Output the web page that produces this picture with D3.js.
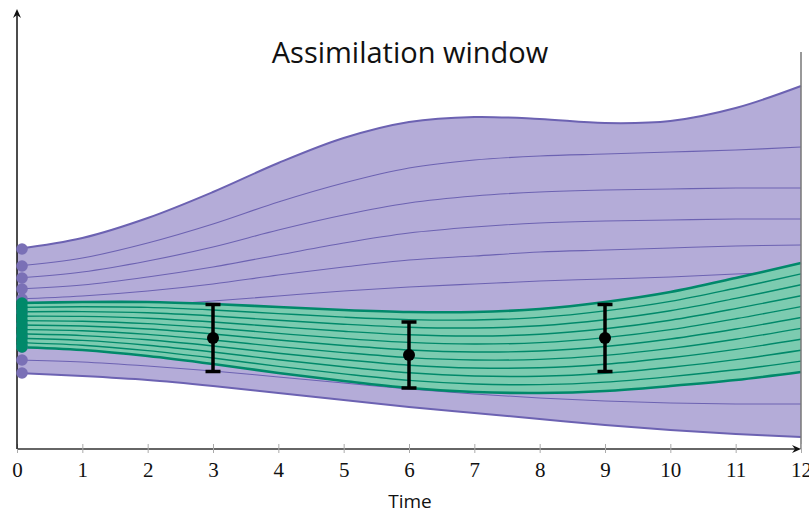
<!DOCTYPE html>
<html><head><meta charset="utf-8">
<script src="https://cdn.jsdelivr.net/npm/d3@7"></script>
<style>body{margin:0;background:#fff} svg{display:block}</style>
</head><body><svg id="c" width="809" height="515"></svg>
<script>
const times = [0,1,2,3,4,5,6,7,8,9,10,11,12];
// prior (purple) ensemble members, top to bottom
const purpleMembers = [
  [20.0,21.1,23.1,25.7,28.6,31.1,32.7,33.2,33.0,32.6,32.8,34.1,36.3],
  [18.3,19.1,20.6,22.5,24.7,26.6,28.1,28.9,29.3,29.5,29.7,29.9,30.2],
  [17.1,17.7,18.8,20.2,21.9,23.4,24.6,25.3,25.7,25.9,26.0,26.1,26.1],
  [16.0,16.4,17.2,18.2,19.4,20.6,21.6,22.2,22.6,22.8,22.9,23.0,23.0],
  [15.0,15.3,15.8,16.5,17.4,18.2,18.9,19.3,19.7,19.9,20.1,20.3,20.4],
  [13.7,13.9,14.3,14.8,15.3,15.8,16.2,16.5,16.8,17.0,17.2,17.5,17.7],
  [12.4,12.4,12.5,12.7,12.9,13.1,13.3,13.5,13.7,13.9,14.4,14.9,15.4],
  [11.3,11.2,11.1,10.9,10.8,10.7,10.6,10.6,10.7,10.9,11.4,11.9,12.4],
  [10.2,10.0,9.7,9.3,8.9,8.5,8.2,8.1,8.1,8.3,8.7,9.4,9.9],
  [8.9,8.7,8.3,7.8,7.2,6.6,6.0,5.5,5.1,4.8,4.6,4.5,4.5],
  [7.6,7.3,6.9,6.3,5.6,4.9,4.2,3.6,3.0,2.4,1.9,1.5,1.2]
];
// analysis (green) ensemble members, top to bottom
const greenMembers = [
  [14.6,14.7,14.7,14.5,14.2,13.9,13.7,13.7,14.0,14.7,15.7,17.1,18.6],
  [14.16,14.22,14.16,13.9,13.54,13.19,12.94,12.9,13.16,13.81,14.76,16.08,17.51],
  [13.72,13.74,13.62,13.3,12.88,12.48,12.18,12.1,12.32,12.92,13.82,15.06,16.42],
  [13.28,13.26,13.08,12.7,12.22,11.77,11.42,11.3,11.48,12.03,12.88,14.04,15.33],
  [12.84,12.78,12.54,12.1,11.56,11.06,10.66,10.5,10.64,11.14,11.94,13.02,14.24],
  [12.4,12.3,12.0,11.5,10.9,10.35,9.9,9.7,9.8,10.25,11.0,12.0,13.15],
  [11.96,11.82,11.46,10.9,10.24,9.64,9.14,8.9,8.96,9.36,10.06,10.98,12.06],
  [11.52,11.34,10.92,10.3,9.58,8.93,8.38,8.1,8.12,8.47,9.12,9.96,10.97],
  [11.08,10.86,10.38,9.7,8.92,8.22,7.62,7.3,7.28,7.58,8.18,8.94,9.88],
  [10.64,10.38,9.84,9.1,8.26,7.51,6.86,6.5,6.44,6.69,7.24,7.92,8.79],
  [10.2,9.9,9.3,8.5,7.6,6.8,6.1,5.7,5.6,5.8,6.3,6.9,7.7]
];
const obsTimes = [3,6,9];
const obsValues = [11.1,9.4,11.1];
const obsErrors = [3.35,3.3,3.35];
const xTicks = [0,1,2,3,4,5,6,7,8,9,10,11,12];
const titleText = "Assimilation window";
const xLabelText = "Time";

const purpleFill = "#b4acd8", purpleLine = "#6c62b2", purpleDot = "#7a70b6";
const greenFill = "#7ccbb0", greenLine = "#00896a";

const svg = d3.select('#c');
const x = d3.scaleLinear().domain([0,12]).range([17,801]);
const y = d3.scaleLinear().domain([0,44]).range([449,9]);
const curve = d3.curveCatmullRom.alpha(0.5);

const line = d3.line().x((d,i)=>x(times[i])).y(d=>y(d)).curve(curve);
function band(top, bot){
  return d3.area().x((d,i)=>x(times[i])).y1((d,i)=>y(top[i])).y0((d,i)=>y(bot[i])).curve(curve)(top);
}

// purple ensemble
const pTop = purpleMembers[0], pBot = purpleMembers[purpleMembers.length-1];
svg.append('path').attr('d', band(pTop,pBot)).attr('fill', purpleFill);
svg.append('g').selectAll('path').data(purpleMembers).join('path')
  .attr('d', d=>line(d)).attr('fill','none').attr('stroke',purpleLine)
  .attr('stroke-width',(d,i)=> (i===0||i===purpleMembers.length-1)?2:1.1);

// green ensemble
const gTop = greenMembers[0], gBot = greenMembers[greenMembers.length-1];
svg.append('path').attr('d', band(gTop,gBot)).attr('fill', greenFill);
svg.append('g').selectAll('path').data(greenMembers).join('path')
  .attr('d', d=>line(d)).attr('fill','none').attr('stroke',greenLine)
  .attr('stroke-width',(d,i)=> (i===0||i===greenMembers.length-1)?2.6:1.4);

// right boundary of window
svg.append('line').attr('x1',x(12)).attr('x2',x(12)).attr('y1',52).attr('y2',y(0))
  .attr('stroke','#777').attr('stroke-width',1.5);

// x axis
const xAxis = svg.append('g').attr('transform',`translate(0,${y(0)})`)
  .call(d3.axisBottom(x).tickValues(xTicks).tickFormat(d3.format('d')).tickSize(4));
xAxis.select('.domain').attr('stroke','#666').attr('stroke-width',1.8).attr('d',`M${x(0)},0H${x(12)-4}`);
xAxis.selectAll('.tick line').attr('stroke','#aaa').attr('y1',-5).attr('y2',4);
xAxis.selectAll('.tick text').attr('y',28).attr('dy',null)
  .attr('font-family','"Liberation Serif", "DejaVu Serif", serif').attr('font-size',21).attr('fill','#111');
// x arrow
svg.append('path').attr('d',`M${x(12)},${y(0)} l-9,-4 l3,4 l-3,4 z`).attr('fill','#111');

// y axis
svg.append('line').attr('x1',x(0)).attr('x2',x(0)).attr('y1',y(0)).attr('y2',14)
  .attr('stroke','#111').attr('stroke-width',1.5);
svg.append('path').attr('d',`M${x(0)},9 l-4,9 l4,-3 l4,3 z`).attr('fill','#111');

// initial ensemble dots
svg.append('g').selectAll('circle').data(purpleMembers).join('circle')
  .attr('cx',x(0)+5).attr('cy',d=>y(d[0])).attr('r',5.8).attr('fill',purpleDot);
svg.append('g').selectAll('circle').data(greenMembers).join('circle')
  .attr('cx',x(0)+5).attr('cy',d=>y(d[0])).attr('r',5.8).attr('fill',greenLine);

// observations with error bars
const obs = svg.append('g').selectAll('g').data(obsTimes).join('g');
obs.append('line').attr('x1',d=>x(d)).attr('x2',d=>x(d))
  .attr('y1',(d,i)=>y(obsValues[i]+obsErrors[i])).attr('y2',(d,i)=>y(obsValues[i]-obsErrors[i]))
  .attr('stroke','#000').attr('stroke-width',3.5);
[1,-1].forEach(s=>{
  obs.append('line').attr('x1',d=>x(d)-7.5).attr('x2',d=>x(d)+7.5)
    .attr('y1',(d,i)=>y(obsValues[i]+s*obsErrors[i])).attr('y2',(d,i)=>y(obsValues[i]+s*obsErrors[i]))
    .attr('stroke','#000').attr('stroke-width',3.5);
});
obs.append('circle').attr('cx',d=>x(d)).attr('cy',(d,i)=>y(obsValues[i])).attr('r',6).attr('fill','#000');

// title and label
svg.append('text').attr('x',410).attr('y',63).attr('text-anchor','middle')
  .attr('font-family','"Open Sans", "DejaVu Sans", sans-serif').attr('font-size',29).attr('fill','#111')
  .text(titleText);
svg.append('text').attr('x',410).attr('y',508).attr('text-anchor','middle')
  .attr('font-family','"Open Sans", "DejaVu Sans", sans-serif').attr('font-size',19).attr('fill','#111')
  .text(xLabelText);
</script></body></html>
